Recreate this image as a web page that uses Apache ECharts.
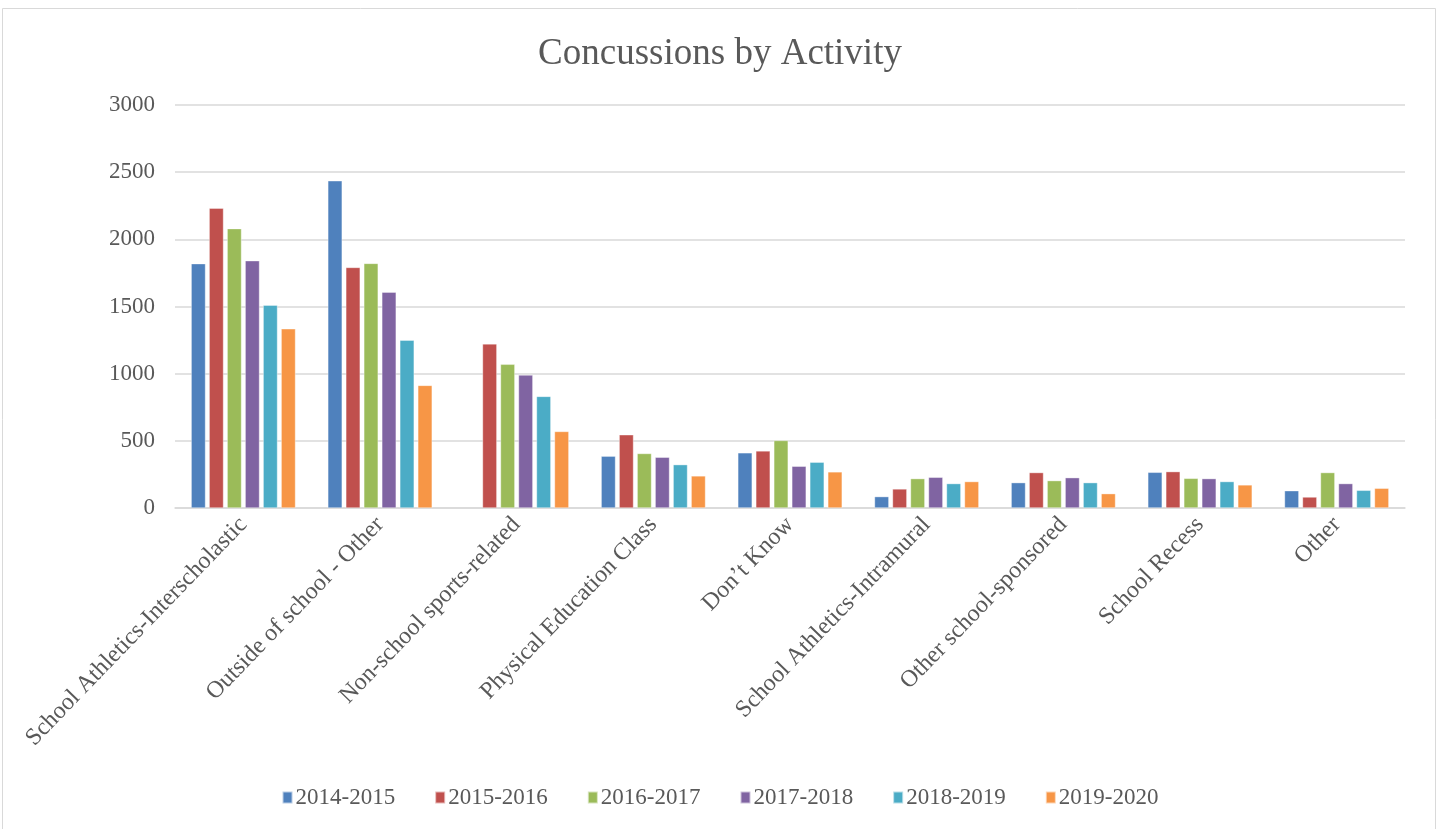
<!DOCTYPE html>
<html>
<head>
<meta charset="utf-8">
<script src="https://cdn.jsdelivr.net/npm/echarts@6/dist/echarts.min.js"></script>
<style>html,body{margin:0;padding:0;background:#fff;}#c{width:1440px;height:829px;}</style>
</head>
<body>
<div id="c"></div>
<script>
const categories = ["School Athletics-Interscholastic","Outside of school - Other","Non-school sports-related","Physical Education Class","Don\u2019t Know","School Athletics-Intramural","Other school-sponsored","School Recess","Other"];
const seriesNames = ["2014-2015","2015-2016","2016-2017","2017-2018","2018-2019","2019-2020"];
const s2014 = [1819, 2436, 0, 386, 411, 85, 189, 266, 129];
const s2015 = [2232, 1791, 1222, 545, 425, 142, 264, 271, 82];
const s2016 = [2080, 1821, 1070, 406, 503, 219, 204, 221, 264];
const s2017 = [1841, 1607, 990, 378, 311, 229, 226, 219, 182];
const s2018 = [1510, 1249, 831, 323, 341, 182, 189, 197, 132];
const s2019 = [1334, 913, 570, 239, 269, 197, 107, 172, 147];
const yTicks = [0, 500, 1000, 1500, 2000, 2500, 3000];
const colors = ["#4F81BD","#C0504D","#9BBB59","#8064A2","#4BACC6","#F79646"];
const allData = [s2014, s2015, s2016, s2017, s2018, s2019];
const font = "'Liberation Serif','Times New Roman',serif";

const chart = echarts.init(document.getElementById('c'));
chart.setOption({
  animation: false,
  color: colors,
  graphic: [{type:'rect', shape:{x:2.5,y:8.5,width:1433,height:830}, style:{fill:'none',stroke:'#d9d9d9',lineWidth:1}, silent:true}],
  title: {text:'Concussions by Activity', left:'center', top:31, textStyle:{fontFamily:font, fontSize:37, fontWeight:'normal', color:'#595959'}},
  legend: {data: seriesNames, bottom:15, left:'center', itemWidth:10, itemHeight:12, itemGap:39, icon:'rect',
    textStyle:{fontFamily:font, fontSize:23, color:'#595959', padding:[0,0,0,-2]}},
  grid: {left:175, right:35, top:105, bottom:321, containLabel:false},
  xAxis: {type:'category', data:categories,
    axisLine:{lineStyle:{color:'#d9d9d9', width:1.5}}, axisTick:{show:false},
    axisLabel:{interval:0, rotate:46, margin:13, fontFamily:font, fontSize:24, color:'#595959'}},
  yAxis: {type:'value', min:yTicks[0], max:yTicks[yTicks.length-1], interval:500,
    axisLine:{show:false}, axisTick:{show:false},
    splitLine:{lineStyle:{color:'#d9d9d9', width:1.5}},
    axisLabel:{margin:20, fontFamily:font, fontSize:23, color:'#595959', formatter:(v)=>String(v)}},
  series: seriesNames.map((n,i)=>({name:n, type:'bar', data:allData[i].map(v=>v===0?null:v), barWidth:14.4, barGap:'25%',
    itemStyle:{borderColor:'rgba(255,255,255,0.6)', borderWidth:0.6}}))
});
</script>
</body>
</html>
